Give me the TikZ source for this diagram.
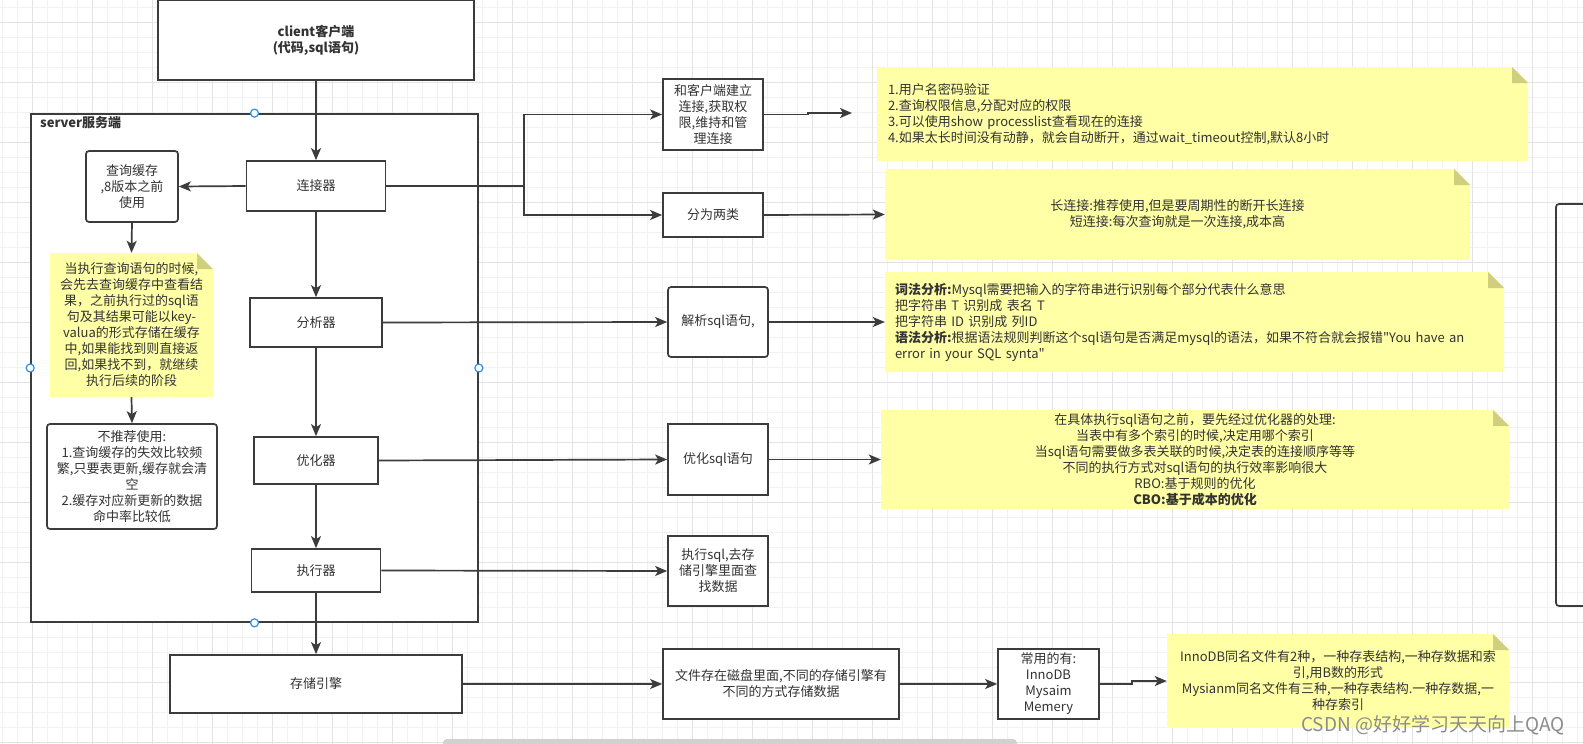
\documentclass[tikz,border=0pt]{standalone}
\usepackage{fontspec}
\setmainfont{Noto Sans CJK SC}
\usetikzlibrary{arrows.meta}
\definecolor{ddink}{HTML}{3C3C3C}
\definecolor{ddtext}{HTML}{333333}
\definecolor{ddnote}{HTML}{FFFFA6}
\definecolor{ddfold}{HTML}{CFCF7E}
\definecolor{ddgrid}{HTML}{F1F1F1}
\definecolor{ddgridmaj}{HTML}{E3E3E3}
\definecolor{ddhandle}{HTML}{2F8EF0}
\newcommand{\fs}{\fontsize{13}{16}\selectfont}
\newcommand{\dq}{\XeTeXglyph\XeTeXcharglyph34\relax}
\tikzset{
  bx/.style={draw=ddink, line width=1.7pt, fill=white, align=center, inner sep=0pt, font=\fs, text=ddtext},
  rbx/.style={bx, rounded corners=3pt},
  note/.style={align=center, inner sep=0pt, font=\fs, text=ddtext,
    path picture={
      \fill[ddnote] (path picture bounding box.south west) |- ([xshift=-16pt]path picture bounding box.north east)
        -- ([yshift=-16pt]path picture bounding box.north east) -- (path picture bounding box.south east) -- cycle;
      \fill[ddfold] ([xshift=-16pt]path picture bounding box.north east) -- ([yshift=-16pt]path picture bounding box.north east)
        -- ([xshift=-16pt,yshift=-16pt]path picture bounding box.north east) -- cycle;
    }},
  arr/.style={-{Stealth[length=12pt,width=10pt,inset=3pt]}, line width=1.7pt, draw=ddink},
  gmin/.style={draw=ddgrid, line width=1pt},
  gmaj/.style={draw=ddgridmaj, line width=1pt},
  hdl/.style={draw=ddhandle, fill=white, line width=1.2pt},
}

\begin{document}
\begin{tikzpicture}[x=1pt,y=-1pt]
  \useasboundingbox[fill=white] (0,0) rectangle (1583,744);
  % grid
  \foreach \gx in {2,17,...,1583} \draw[gmin] (\gx,0) -- (\gx,744);
  \foreach \gy in {7,22,...,744} \draw[gmin] (0,\gy) -- (1583,\gy);
  \foreach \gx in {32,92,...,1583} \draw[gmaj] (\gx,0) -- (\gx,744);
  \foreach \gy in {22,82,...,744} \draw[gmaj] (0,\gy) -- (1583,\gy);

  % server side
  \node[bx, minimum width=447pt, minimum height=508pt] (server) at (254.5,368) {};
  \node[font=\fs\bfseries, text=ddtext, anchor=west, inner sep=0pt] (srvlbl) at (40,123) {server服务端};
  \node[bx, font=\fs\bfseries, minimum width=316pt, minimum height=80pt] (client) at (316,40) {client客户端\\(代码,sql语句)};
  \node[bx, minimum width=139pt, minimum height=50pt] (conn) at (316,186) {连接器};
  \node[bx, minimum width=132pt, minimum height=49pt] (ana) at (316,322.5) {分析器};
  \node[bx, minimum width=124pt, minimum height=47pt] (opt) at (316,460.5) {优化器};
  \node[bx, minimum width=129pt, minimum height=43pt] (exe) at (316,570.5) {执行器};
  \node[bx, minimum width=292pt, minimum height=58pt] (store) at (316,684) {存储引擎};
  \node[rbx, minimum width=92pt, minimum height=71pt] (cache) at (132,186.5) {查询缓存\\,8版本之前\\使用};
  \node[note, minimum width=163pt, minimum height=144pt] (hint) at (131.5,325) {当执行查询语句的时候,\\会先去查询缓存中查看结\\果，之前执行过的sql语\\句及其结果可能以key-\\valua的形式存储在缓存\\中,如果能找到则直接返\\回,如果找不到，就继续\\执行后续的阶段};
  \node[rbx, minimum width=170pt, minimum height=105pt] (norec) at (132,476.5) {不推荐使用:\\1.查询缓存的失效比较频\\繁,只要表更新,缓存就会清\\空\\2.缓存对应新更新的数据\\命中率比较低};

  % right column
  \node[bx, minimum width=100pt, minimum height=71pt] (link) at (713,114.5) {和客户端建立\\连接,获取权\\限,维持和管\\理连接};
  \node[bx, minimum width=100pt, minimum height=44pt] (kinds) at (713,215) {分为两类};
  \node[rbx, minimum width=100pt, minimum height=70pt] (parse) at (718,322) {解析sql语句,};
  \node[bx, minimum width=100pt, minimum height=71pt] (optsql) at (718,459.5) {优化sql语句};
  \node[bx, minimum width=100pt, minimum height=70pt] (exesql) at (718,571) {执行sql,去存\\储引擎里面查\\找数据};
  \node[bx, minimum width=236pt, minimum height=70pt] (disk) at (781,684) {文件存在磁盘里面,不同的存储引擎有\\不同的方式存储数据};
  \node[bx, minimum width=101pt, minimum height=70pt] (engines) at (1048.5,684) {常用的有:\\InnoDB\\Mysaim\\Memery};

  % notes
  \node[note, align=left, inner xsep=11pt, text width=629pt, minimum width=651pt, minimum height=94pt] (nauth) at (1202.5,114) {1.用户名密码验证\\2.查询权限信息,分配对应的权限\\3.可以使用show processlist查看现在的连接\\4.如果太长时间没有动静，就会自动断开，通过wait\_timeout控制,默认8小时};
  \node[note, minimum width=585pt, minimum height=91pt] (nconn) at (1177.5,214.5) {长连接:推荐使用,但是要周期性的断开长连接\\短连接:每次查询就是一次连接,成本高};
  \node[note, align=left, inner xsep=10pt, text width=599pt, minimum width=619pt, minimum height=100pt] (nparse) at (1194.5,322) {\textbf{词法分析:}Mysql需要把输入的字符串进行识别每个部分代表什么意思\\把字符串 T 识别成 表名 T\\把字符串 ID 识别成 列ID\\\textbf{语法分析:}根据语法规则判断这个sql语句是否满足mysql的语法，如果不符合就会报错\dq You have an\\error in your SQL synta\dq};
  \node[note, minimum width=628pt, minimum height=99pt] (nopt) at (1195,459.5) {在具体执行sql语句之前，要先经过优化器的处理:\\当表中有多个索引的时候,决定用哪个索引\\当sql语句需要做多表关联的时候,决定表的连接顺序等等\\不同的执行方式对sql语句的执行效率影响很大\\RBO:基于规则的优化\\\textbf{CBO:基于成本的优化}};
  \node[note, minimum width=342pt, minimum height=94pt] (nstore) at (1338,681) {InnoDB同名文件有2种，一种存表结构,一种存数据和索\\引,用B数的形式\\Mysianm同名文件有三种,一种存表结构.一种存数据,一\\种存索引};

  % connectors
  \draw[arr] (client.south) -- (conn.north);
  \draw[arr] (conn.south) -- (ana.north);
  \draw[arr] (ana.south) -- (opt.north);
  \draw[arr] (opt.south) -- (exe.north);
  \draw[arr] (exe.south) -- (store.north);
  \draw[arr] (conn.west) -- (cache.east);
  \draw[arr] (cache.south) -- (hint.north);
  \draw[arr] (hint.south) -- (norec.north);
  \coordinate (fork) at (524,186);
  \draw[arr] (conn.east) -- (fork) |- (link.west);
  \draw[arr] (fork) |- (kinds.west);
  \coordinate (linkend) at (852,113);
  \draw[arr] (link.east) -- ++(44,0) |- (linkend);
  \draw[arr] (kinds.east) -- (nconn.west);
  \draw[arr] (ana.east) -- (parse.west);
  \draw[arr] (parse.east) -- (nparse.west);
  \draw[arr] (opt.east) -- (optsql.west);
  \draw[arr] (optsql.east) -- (nopt.west);
  \draw[arr] (exe.east) -- (exesql.west);
  \draw[arr] (store.east) -- (disk.west);
  \draw[arr] (disk.east) -- (engines.west);
  \draw[arr] (engines.east) -- ++(32,0) |- (nstore.west);

  % selection handles, cut-off frame, scroll bar
  \foreach \a in {north,south,east,west} \draw[hdl] (server.\a) circle (4pt);
  \draw[draw=ddink, line width=1.7pt, rounded corners=3pt] (1556,204) rectangle (1610,606);
  \fill[black!18, rounded corners=4pt] (443,739) rectangle (1017,752);
  \node[font=\fontsize{19}{22}\selectfont, text=black!45, inner sep=0pt] (mark) at (1433,725) {CSDN @好好学习天天向上QAQ};
\end{tikzpicture}
\end{document}
